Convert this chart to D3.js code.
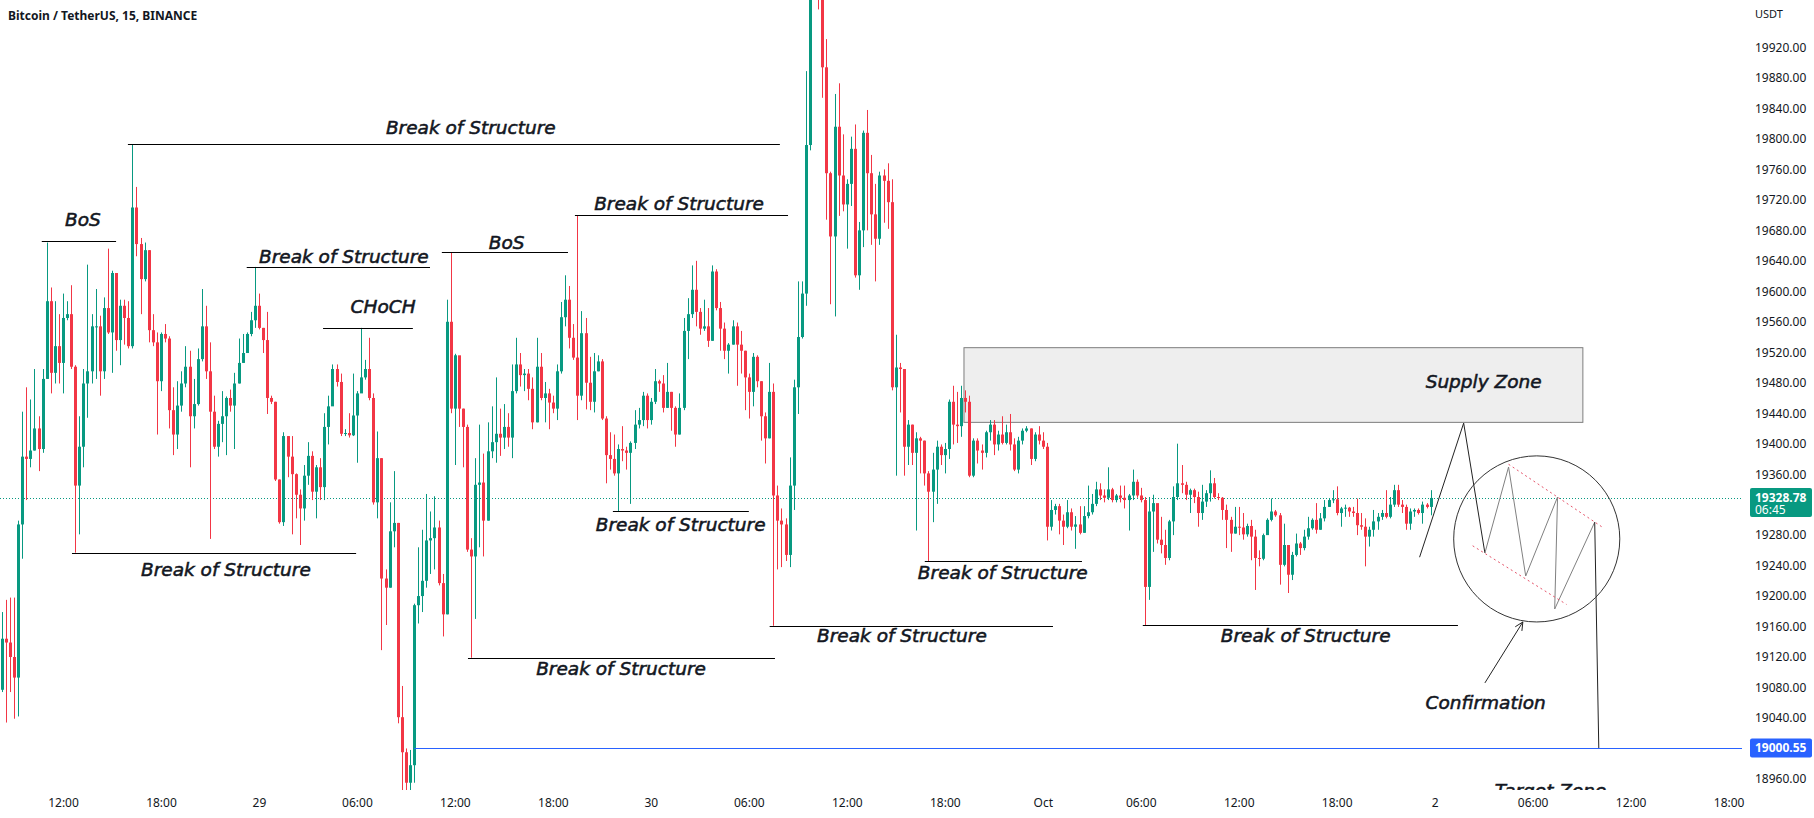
<!DOCTYPE html>
<html>
<head>
<meta charset="utf-8">
<script src="https://cdn.jsdelivr.net/npm/d3@7"></script>
<style>
  body { margin: 0; background: #fff; overflow: hidden; }
  svg { display: block; }
  .ax text { font-family: "Noto Sans", sans-serif; font-size: 12px; fill: #131722; }
  .note { font-family: "DejaVu Sans", sans-serif; font-style: italic; font-size: 18.5px;
          fill: #131722; stroke: #131722; stroke-width: 0.55px; }
</style>
</head>
<body>
<script>
// 15 minute bars, first one opens 2022-09-28 08:15
const firstBar = Date.UTC(2022, 8, 28, 8, 15);
const barMs = 15 * 60 * 1000;
const firstOpen = 19077;

const closes = [
  19144,19139,19120,19093,19294,19383,19380,19391,19420,19393,19485,19587,19493,19528,19506,19565,19570,19501,19345,19396,
  19479,19495,19554,19554,19495,19578,19546,19624,19536,19581,19565,19528,19710,19662,19616,19654,19549,19533,19482,19544,
  19538,19444,19412,19450,19479,19501,19436,19452,19511,19554,19495,19442,19396,19426,19436,19460,19450,19479,19506,19519,
  19544,19562,19581,19552,19536,19460,19455,19353,19297,19410,19383,19360,19333,19315,19358,19384,19337,19369,19343,19422,
  19449,19498,19481,19413,19414,19411,19437,19466,19487,19498,19460,19323,19381,19223,19211,19285,19296,19041,18995,18955,
  18978,19188,19200,19220,19273,19276,19290,19217,19176,19560,19446,19516,19446,19422,19261,19252,19346,19349,19299,19390,
  19402,19413,19408,19422,19408,19469,19504,19490,19492,19472,19428,19501,19460,19466,19454,19446,19495,19566,19589,19539,
  19513,19463,19545,19480,19455,19495,19508,19433,19385,19380,19361,19393,19391,19388,19401,19425,19431,19463,19431,19455,
  19482,19479,19447,19468,19447,19412,19447,19548,19570,19602,19573,19551,19554,19535,19626,19578,19551,19522,19530,19554,
  19530,19522,19487,19468,19514,19482,19436,19407,19468,19332,19299,19294,19254,19345,19474,19540,19597,19792,20060,20020,
  19995,19894,19755,19672,19816,19752,19714,19741,19787,19621,19680,19808,19755,19701,19669,19752,19745,19717,19474,19500,
  19498,19396,19425,19388,19407,19404,19361,19337,19366,19396,19385,19393,19455,19425,19423,19460,19455,19358,19404,19391,
  19388,19415,19425,19399,19412,19401,19415,19399,19366,19404,19417,19420,19380,19412,19404,19396,19291,19313,19318,19299,
  19291,19310,19291,19294,19283,19305,19310,19321,19340,19332,19329,19340,19326,19332,19329,19326,19332,19350,19332,19326,
  19212,19311,19322,19274,19267,19250,19298,19330,19348,19346,19333,19339,19330,19309,19324,19335,19348,19330,19329,19313,
  19300,19282,19291,19290,19281,19292,19278,19250,19249,19280,19300,19311,19306,19241,19267,19228,19254,19269,19263,19278,
  19289,19300,19287,19302,19317,19326,19327,19309,19315,19316,19311,19309,19293,19291,19278,19287,19298,19304,19309,19304,
  19320,19339,19320,19317,19295,19311,19313,19309,19320,19317,19328.78
];

const highs = [
  19179,19195,19198,19198,19299,19442,19474,19458,19498,19436,19498,19664,19605,19587,19570,19597,19587,19608,19503,19436,
  19498,19635,19570,19603,19568,19592,19656,19627,19624,19589,19589,19587,19793,19737,19670,19664,19654,19570,19546,19546,
  19557,19541,19474,19482,19495,19528,19522,19485,19525,19603,19581,19533,19463,19430,19469,19462,19471,19493,19538,19544,
  19546,19573,19632,19597,19552,19573,19463,19455,19353,19415,19410,19410,19361,19340,19372,19402,19390,19372,19381,19440,
  19463,19504,19504,19492,19419,19440,19492,19469,19552,19510,19539,19466,19416,19381,19235,19323,19364,19296,19082,19000,
  18998,19190,19264,19287,19334,19311,19331,19299,19229,19589,19651,19518,19498,19446,19425,19276,19381,19425,19387,19428,
  19449,19487,19446,19452,19440,19504,19539,19519,19498,19498,19487,19539,19519,19481,19472,19463,19504,19586,19621,19607,
  19557,19700,19574,19565,19514,19519,19516,19511,19436,19415,19412,19399,19423,19396,19403,19444,19447,19468,19466,19460,
  19498,19484,19490,19506,19468,19449,19466,19565,19591,19634,19640,19578,19589,19578,19634,19629,19586,19559,19532,19562,
  19559,19548,19522,19492,19519,19516,19482,19441,19506,19479,19345,19315,19302,19382,19484,19613,19613,19889,20120,20185,
  20050,20000,19931,19757,19859,19873,19806,19747,19803,19819,19691,19811,19838,19779,19741,19757,19760,19768,19747,19543,
  19506,19498,19431,19425,19415,19409,19404,19364,19388,19404,19399,19401,19458,19476,19468,19476,19470,19463,19407,19407,
  19399,19417,19431,19431,19417,19436,19425,19439,19407,19409,19420,19423,19420,19415,19423,19415,19401,19326,19321,19321,
  19307,19326,19315,19305,19318,19318,19345,19334,19350,19348,19340,19369,19342,19334,19345,19345,19334,19366,19353,19342,
  19330,19330,19333,19315,19304,19287,19300,19344,19400,19372,19350,19341,19341,19337,19346,19339,19365,19355,19335,19330,
  19320,19304,19317,19317,19309,19295,19300,19287,19260,19282,19302,19328,19313,19309,19295,19267,19258,19282,19271,19287,
  19304,19302,19322,19309,19326,19328,19339,19344,19317,19320,19317,19317,19328,19309,19302,19291,19313,19309,19313,19339,
  19330,19346,19346,19326,19320,19315,19315,19315,19324,19322,19339
];

const lows = [
  19074,19034,19074,19039,19042,19249,19326,19369,19391,19364,19388,19485,19466,19479,19479,19466,19562,19498,19257,19281,
  19369,19434,19479,19485,19463,19485,19544,19493,19522,19503,19530,19525,19525,19646,19570,19613,19533,19528,19412,19469,
  19533,19420,19385,19393,19442,19474,19369,19420,19450,19508,19485,19275,19393,19383,19402,19385,19442,19393,19479,19506,
  19519,19541,19552,19550,19519,19439,19452,19351,19295,19292,19356,19281,19302,19267,19299,19346,19326,19302,19326,19326,
  19399,19463,19475,19410,19410,19408,19410,19375,19475,19484,19457,19320,19302,19129,19162,19211,19264,19033,18930,18915,
  18925,18955,19164,19179,19211,19229,19235,19214,19147,19176,19440,19372,19422,19369,19258,19119,19170,19264,19252,19299,
  19381,19375,19384,19393,19396,19381,19466,19475,19469,19457,19419,19428,19457,19428,19419,19440,19431,19492,19554,19525,
  19510,19431,19457,19445,19444,19441,19495,19431,19348,19366,19358,19311,19377,19366,19321,19393,19420,19423,19420,19425,
  19452,19468,19441,19447,19417,19396,19412,19444,19511,19565,19554,19543,19548,19527,19535,19575,19522,19511,19492,19530,
  19476,19492,19444,19433,19449,19474,19404,19374,19407,19161,19235,19238,19246,19238,19313,19439,19538,19581,19785,19985,
  19970,19854,19694,19583,19567,19699,19705,19656,19712,19618,19602,19658,19680,19661,19613,19661,19690,19682,19470,19358,
  19441,19358,19372,19372,19286,19361,19345,19246,19297,19321,19372,19361,19380,19399,19401,19409,19441,19356,19356,19374,
  19366,19382,19404,19385,19391,19399,19399,19391,19364,19361,19399,19415,19372,19377,19399,19393,19273,19286,19307,19281,
  19267,19289,19286,19262,19281,19283,19302,19307,19318,19326,19323,19326,19323,19323,19323,19315,19286,19326,19329,19323,
  19162,19195,19258,19269,19256,19241,19247,19280,19326,19335,19326,19309,19322,19291,19300,19317,19324,19328,19326,19300,
  19263,19258,19282,19280,19274,19278,19247,19208,19239,19247,19287,19298,19304,19215,19239,19204,19221,19252,19254,19260,
  19274,19287,19282,19287,19298,19317,19322,19306,19291,19304,19304,19304,19280,19287,19239,19265,19278,19287,19300,19302,
  19302,19317,19317,19309,19287,19287,19304,19307,19295,19315,19306
];

// horizontal structure levels: [from bar, to bar, price]
const levels = [
  [9.8, 28.0, 19666], [30.9, 190.6, 19793], [60.0, 104.9, 19632], [78.7, 100.7, 19552],
  [107.8, 138.7, 19651], [140.4, 192.6, 19700], [17.2, 86.8, 19256], [149.7, 183.0, 19311],
  [114.2, 189.4, 19119], [188.1, 257.5, 19161], [226.1, 264.6, 19246], [279.5, 356.7, 19162]
];

// text notes: [label, bar, baseline price]
const notes = [
  ["BoS", 19.9, 19686], ["Break of Structure", 114.9, 19806], ["Break of Structure", 83.8, 19637],
  ["CHoCH", 93.4, 19571], ["BoS", 123.7, 19655], ["Break of Structure", 165.9, 19707],
  ["Break of Structure", 54.9, 19226], ["Break of Structure", 166.3, 19285], ["Break of Structure", 151.7, 19096],
  ["Break of Structure", 220.5, 19140], ["Break of Structure", 245.2, 19222], ["Break of Structure", 319.4, 19140],
  ["Supply Zone", 363.0, 19473], ["Confirmation", 363.5, 19052], ["Target Zone", 379.4, 18936]
];

const supply = [235.7, 387.3, 19428, 19526];
const vLegs = [[347.3, 19251], [358.1, 19427], [363.3, 19256.5]];
const zigzag = [[363.3, 19256.5], [369.1, 19369.4], [373.3, 19226.3], [381.1, 19330], [380.4, 19183], [390.2, 19297]];
const drop = [[390.2, 19297], [391.2, 19000.55]];
const channel = [[[369.1, 19373], [392.2, 19290]], [[360.3, 19266], [383.3, 19189]]];
const ring = { bar: 376.0, price: 19275, span: 109 };
const arrow = [[363.3, 19086], [372.6, 19166]];
const target = 19000.55, targetFrom = 101;
const lastPrice = 19328.78, countdown = "06:45";

const W = 1814, H = 818, plotW = 1742, plotH = 790;
const up = "#089981", down = "#f23645";

const t12 = Date.UTC(2022, 8, 28, 12);
const x = d3.scaleTime()
  .domain([new Date(t12 - 3.858 * 36e5), new Date(t12 + 102.82 * 36e5)])
  .range([0, plotW]);
const y = d3.scaleLinear().domain([18945.45, 19982.35]).range([plotH, 0]);
const bx = i => x(new Date(firstBar + i * barMs));

const bars = closes.map((c, i) => ({
  i, o: i ? closes[i - 1] : firstOpen, c, h: highs[i], l: lows[i]
}));

const svg = d3.select("body").append("svg")
  .attr("width", W).attr("height", H);

svg.append("clipPath").attr("id", "plot")
  .append("rect").attr("width", plotW).attr("height", plotH);

const g = svg.append("g").attr("clip-path", "url(#plot)");

// current price dotted line
g.append("line")
  .attr("x1", 0).attr("x2", plotW)
  .attr("y1", Math.round(y(lastPrice)) + 0.5).attr("y2", Math.round(y(lastPrice)) + 0.5)
  .attr("stroke", up).attr("stroke-dasharray", "1,2");

// supply zone
g.append("rect")
  .attr("x", bx(supply[0])).attr("width", bx(supply[1]) - bx(supply[0]))
  .attr("y", y(supply[3])).attr("height", y(supply[2]) - y(supply[3]))
  .attr("fill", "#eeeeee").attr("stroke", "#7d7d7d");

// candles
const cg = g.append("g");
cg.selectAll("line").data(bars).join("line")
  .attr("x1", d => Math.round(bx(d.i)) + 0.5)
  .attr("x2", d => Math.round(bx(d.i)) + 0.5)
  .attr("y1", d => y(d.h)).attr("y2", d => y(d.l))
  .attr("stroke", d => d.c >= d.o ? up : down);
cg.selectAll("rect").data(bars).join("rect")
  .attr("x", d => Math.round(bx(d.i)) - 1)
  .attr("width", 3)
  .attr("y", d => y(Math.max(d.o, d.c)))
  .attr("height", d => Math.max(1, Math.abs(y(d.o) - y(d.c))))
  .attr("fill", d => d.c >= d.o ? up : down);

// target line
g.append("line")
  .attr("x1", bx(targetFrom)).attr("x2", plotW)
  .attr("y1", Math.round(y(target)) + 0.5).attr("y2", Math.round(y(target)) + 0.5)
  .attr("stroke", "#2962ff");

// structure levels
g.selectAll(".lvl").data(levels).join("line").attr("class", "lvl")
  .attr("x1", d => bx(d[0])).attr("x2", d => bx(d[1]))
  .attr("y1", d => Math.round(y(d[2])) + 0.5).attr("y2", d => Math.round(y(d[2])) + 0.5)
  .attr("stroke", "#000").attr("stroke-width", 1.1);

const line = d3.line().x(d => bx(d[0])).y(d => y(d[1]));

g.append("path").attr("d", line(vLegs)).attr("fill", "none").attr("stroke", "#222");
g.append("path").attr("d", line(zigzag)).attr("fill", "none").attr("stroke", "#808080");
g.append("path").attr("d", line(drop)).attr("fill", "none").attr("stroke", "#222");
g.selectAll(".chan").data(channel).join("path").attr("class", "chan")
  .attr("d", line).attr("fill", "none")
  .attr("stroke", "#e5546a").attr("stroke-dasharray", "2,3");

g.append("circle")
  .attr("cx", bx(ring.bar)).attr("cy", y(ring.price))
  .attr("r", y(ring.price - ring.span) - y(ring.price))
  .attr("fill", "none").attr("stroke", "#333");

// confirmation arrow
const a0 = [bx(arrow[0][0]), y(arrow[0][1])], a1 = [bx(arrow[1][0]), y(arrow[1][1])];
const ang = Math.atan2(a1[1] - a0[1], a1[0] - a0[0]);
g.append("path")
  .attr("d", `M${a0}L${a1}M${a1[0] - 9 * Math.cos(ang - 0.45)},${a1[1] - 9 * Math.sin(ang - 0.45)}L${a1}L${a1[0] - 9 * Math.cos(ang + 0.45)},${a1[1] - 9 * Math.sin(ang + 0.45)}`)
  .attr("fill", "none").attr("stroke", "#222");

// notes
g.selectAll(".note").data(notes).join("text").attr("class", "note")
  .attr("x", d => bx(d[1])).attr("y", d => y(d[2]))
  .attr("text-anchor", "middle")
  .text(d => d[0]);

// price axis, the labels hidden behind the two price tags are left out
const lastY = y(lastPrice), tY = y(target);
const yTicks = d3.range(18960, 19921, 40)
  .filter(v => Math.abs(y(v) - lastY - 4) > 18 && Math.abs(y(v) - tY) > 12);
const yAxis = svg.append("g").attr("class", "ax")
  .attr("transform", `translate(${plotW},0)`)
  .call(d3.axisRight(y).tickValues(yTicks)
    .tickFormat(d => d.toFixed(2)).tickSize(0).tickPadding(13));
yAxis.select(".domain").remove();

svg.append("text")
  .attr("x", plotW + 13).attr("y", 18)
  .style("font-family", "Noto Sans").style("font-size", "11px").attr("fill", "#131722")
  .text("USDT");

// time axis
const fmtH = d3.utcFormat("%H:%M");
const xAxis = svg.append("g").attr("class", "ax")
  .attr("transform", `translate(0,${plotH})`)
  .call(d3.axisBottom(x)
    .tickValues(d3.range(0, 103, 6).map(h => new Date(t12 + h * 36e5)))
    .tickFormat(d => d.getUTCHours() ? fmtH(d)
      : d.getUTCDate() === 1 ? d3.utcFormat("%b")(d) : d3.utcFormat("%-d")(d))
    .tickSize(0).tickPadding(8));
xAxis.select(".domain").remove();

// price tags on the scale
const pl = svg.append("g");
pl.append("rect").attr("x", 1750).attr("y", lastY - 10).attr("width", 62).attr("height", 29)
  .attr("rx", 2).attr("fill", up);
const tag = pl.append("text").attr("y", lastY + 4)
  .style("font-family", "Noto Sans").style("font-size", "12px").attr("fill", "#fff");
tag.append("tspan").attr("x", 1755).style("font-weight", 700).text(lastPrice.toFixed(2));
tag.append("tspan").attr("x", 1755).attr("dy", 12).text(countdown);

pl.append("rect").attr("x", 1750).attr("y", tY - 9.5).attr("width", 62).attr("height", 19)
  .attr("rx", 2).attr("fill", "#2962ff");
pl.append("text").attr("x", 1755).attr("y", tY + 4)
  .style("font-family", "Noto Sans").style("font-size", "12px").style("font-weight", 700)
  .attr("fill", "#fff").text(target.toFixed(2));

// title
svg.append("text").attr("x", 8).attr("y", 20)
  .style("font-family", "Noto Sans").style("font-size", "12px").style("font-weight", 700)
  .attr("fill", "#131722")
  .text("Bitcoin / TetherUS, 15, BINANCE");
</script>
</body>
</html>
